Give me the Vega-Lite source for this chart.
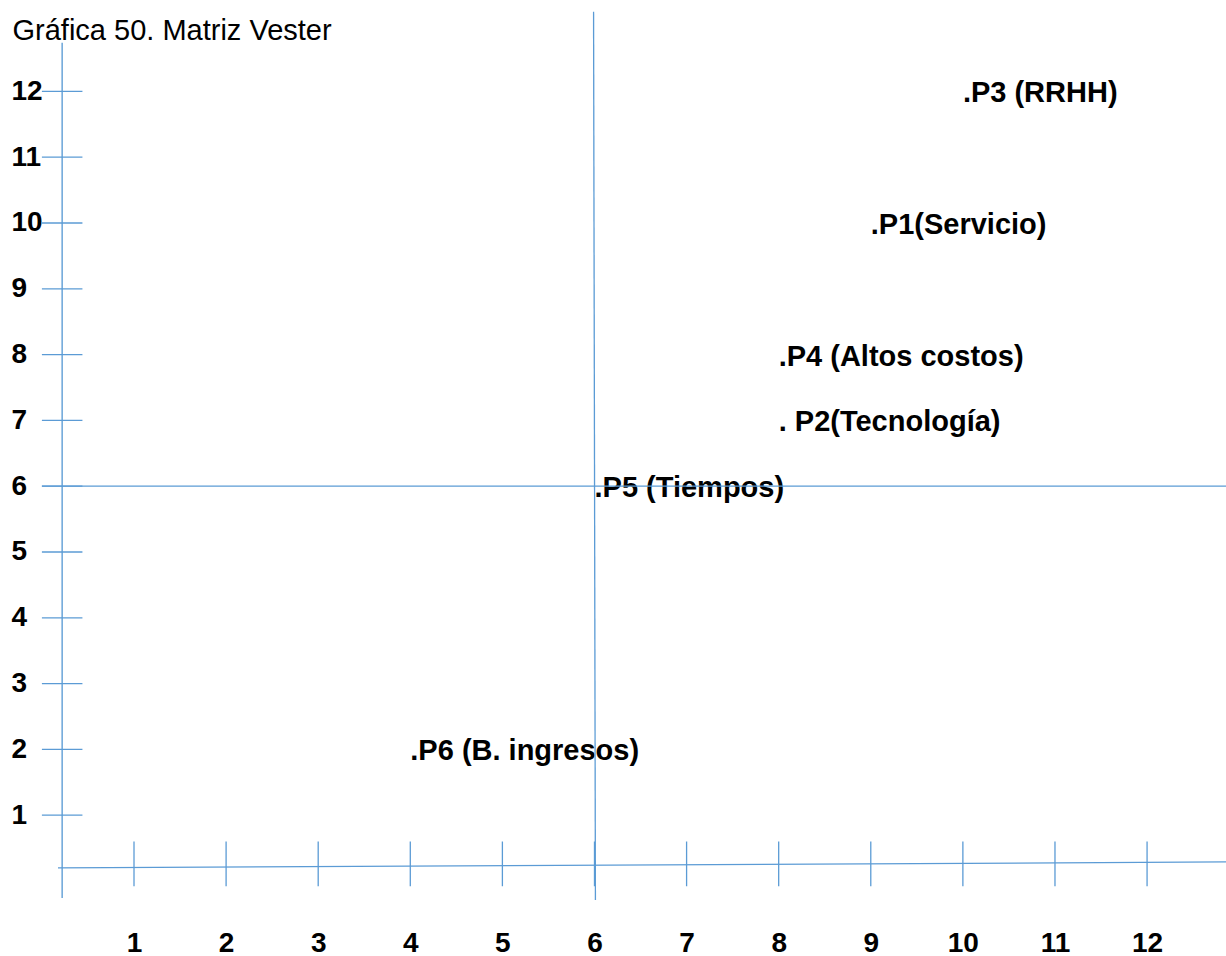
{
  "$schema": "https://vega.github.io/schema/vega-lite/v6.json",
  "width": 1226,
  "height": 956,
  "autosize": {"type": "none"},
  "padding": 0,
  "background": "white",
  "config": {"view": {"stroke": null}, "font": "Liberation Sans"},
  "datasets": {
    "marcas": [
      {"t": 1}, {"t": 2}, {"t": 3}, {"t": 4}, {"t": 5}, {"t": 6},
      {"t": 7}, {"t": 8}, {"t": 9}, {"t": 10}, {"t": 11}, {"t": 12}
    ],
    "problemas": [
      {"pasivo": 10, "activo": 12, "etiqueta": ".P3 (RRHH)"},
      {"pasivo": 9, "activo": 10, "etiqueta": ".P1(Servicio)"},
      {"pasivo": 8, "activo": 8, "etiqueta": ".P4 (Altos costos)"},
      {"pasivo": 8, "activo": 7, "etiqueta": ". P2(Tecnología)"},
      {"pasivo": 6, "activo": 6, "etiqueta": ".P5 (Tiempos)"},
      {"pasivo": 4, "activo": 2, "etiqueta": ".P6 (B. ingresos)"}
    ],
    "uno": [{"n": 1}]
  },
  "layer": [
    {
      "data": {"name": "problemas"},
      "mark": {"type": "text", "align": "left", "baseline": "middle", "dy": 2, "fontSize": 29, "fontWeight": "bold", "font": "Liberation Sans", "color": "#000000"},
      "encoding": {
        "x": {"field": "pasivo", "type": "quantitative", "scale": {"domain": [-0.455, 12.857], "nice": false, "zero": false},
          "axis": {"title": null, "values": [1,2,3,4,5,6,7,8,9,10,11,12], "format": "d", "domain": false, "ticks": false, "grid": false, "labelAlign": "center", "labelBaseline": "middle", "labelPadding": 0, "offset": -13, "labelFontSize": 28, "labelFontWeight": "bold", "labelFont": "Liberation Sans", "labelColor": "#000000", "labelOverlap": false, "labelBound": false, "labelFlush": false}},
        "y": {"field": "activo", "type": "quantitative", "scale": {"domain": [-1.14, 13.389], "nice": false, "zero": false},
          "axis": {"title": "Gráfica 50. Matriz Vester", "titleAngle": 0, "titleAlign": "left", "titleBaseline": "alphabetic", "titleX": 1, "titleY": 39, "titleFontSize": 29, "titleFontWeight": "normal", "titleFont": "Liberation Sans", "titleColor": "#000000",
            "values": [1,2,3,4,5,6,7,8,9,10,11,12], "format": "d", "domain": false, "ticks": false, "grid": false, "labelAlign": "left", "labelBaseline": "middle", "labelPadding": 0, "offset": -11, "labelFontSize": 28, "labelFontWeight": "bold", "labelFont": "Liberation Sans", "labelColor": "#000000", "labelOverlap": false, "labelBound": false, "labelFlush": false}},
        "text": {"field": "etiqueta"}
      }
    },
    {
      "data": {"name": "marcas"},
      "mark": {"type": "rule", "color": "#5B9BD5", "strokeWidth": 1.3},
      "encoding": {
        "y": {"field": "t", "type": "quantitative"},
        "x": {"datum": 0.0},
        "x2": {"datum": 0.44}
      }
    },
    {
      "data": {"name": "marcas"},
      "mark": {"type": "rule", "color": "#5B9BD5", "strokeWidth": 1.3},
      "encoding": {
        "x": {"field": "t", "type": "quantitative"},
        "y": {"datum": -0.08},
        "y2": {"datum": 0.6}
      }
    },
    {
      "data": {"name": "uno"},
      "mark": {"type": "rule", "color": "#5B9BD5", "strokeWidth": 1.6, "opacity": 0.85},
      "encoding": {
        "x": {"datum": 0.22},
        "y": {"datum": -0.26},
        "y2": {"datum": 12.74}
      }
    },
    {
      "data": {"name": "uno"},
      "mark": {"type": "rule", "color": "#5B9BD5", "strokeWidth": 1.3},
      "encoding": {
        "x": {"datum": 0.175},
        "y": {"datum": 0.198},
        "x2": {"datum": 12.857},
        "y2": {"datum": 0.289}
      }
    },
    {
      "data": {"name": "uno"},
      "mark": {"type": "rule", "color": "#5B9BD5", "strokeWidth": 1.3},
      "encoding": {
        "x": {"datum": 0.0},
        "y": {"datum": 6.0},
        "x2": {"datum": 12.857}
      }
    },
    {
      "data": {"name": "uno"},
      "mark": {"type": "rule", "color": "#5B9BD5", "strokeWidth": 1.3},
      "encoding": {
        "x": {"datum": 5.99},
        "y": {"datum": 13.21},
        "x2": {"datum": 6.01},
        "y2": {"datum": -0.29}
      }
    }
  ]
}
